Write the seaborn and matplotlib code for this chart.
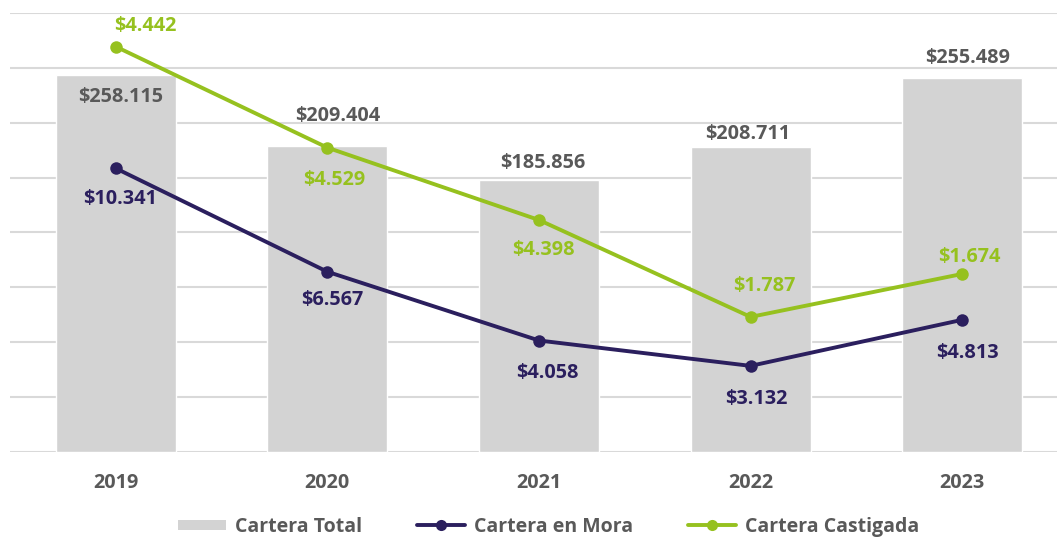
import numpy as np
import pandas as pd
import matplotlib
matplotlib.use("Agg")
import matplotlib.pyplot as plt
import seaborn as sns
from matplotlib.lines import Line2D

# Data
years = ["2019", "2020", "2021", "2022", "2023"]
cartera_total = [258115, 209404, 185856, 208711, 255489]
cartera_mora = [10341, 6567, 4058, 3132, 4813]
cartera_castigada = [4442, 4529, 4398, 1787, 1674]

# label offsets in pixels (dx, dy) relative to bar top / marker
total_off = [(5, -22), (10, 30), (4, 17), (-3, 13), (5, 20)]
mora_off = [(4, -31), (5, -28), (8, -32), (6, -33), (5, -33)]
cast_off = [(30, 21), (7, -32), (4, -30), (14, 31), (7, 17)]

GRAY_BAR = "#d3d3d3"
GRAY_TXT = "#595959"
NAVY = "#2b1f5e"
GREEN = "#96c11f"
FS = 14.3


def fmt(v):
    return "$" + f"{v:,}".replace(",", ".")


df = pd.DataFrame({
    "year": years,
    "pos": np.arange(len(years)),
    "total": cartera_total,
    "mora": cartera_mora,
    # castigada line is stacked on top of mora
    "cast_stack": np.array(cartera_mora) + np.array(cartera_castigada),
})

sns.set_style("white")
plt.rcParams['font.family'] = ['Open Sans', 'DejaVu Sans']
plt.rcParams['font.weight'] = 'bold'

fig = plt.figure(figsize=(10.57, 5.38), dpi=100)
ax = fig.add_axes([10 / 1057, 86.3 / 538, 1058 / 1057, 438.4 / 538])

sns.barplot(data=df, x="year", y="total", color=GRAY_BAR, saturation=1,
            width=0.567, ax=ax, zorder=2)
ax.set_ylim(0, 300000)
ax.set_yticks(np.linspace(0, 300000, 9))
ax.set_yticklabels([])
ax.grid(axis="y", color="#d9d9d9", linewidth=1.5)
ax.set_axisbelow(True)
ax.tick_params(axis="both", length=0)
ax.tick_params(axis="x", pad=15, labelsize=FS, labelcolor=GRAY_TXT)
for lbl in ax.get_xticklabels():
    lbl.set_fontweight("bold")
ax.set_xlabel("")
ax.set_ylabel("")
sns.despine(ax=ax, left=True, bottom=True)

for i, v in enumerate(cartera_total):
    ax.annotate(fmt(v), (i, v), xytext=total_off[i], textcoords="offset pixels",
                ha="center", va="center", fontsize=FS, fontweight="bold",
                color=GRAY_TXT)

ax2 = ax.twinx()
sns.lineplot(data=df, x="pos", y="cast_stack", color=GREEN, linewidth=2.8,
             marker="o", markersize=9, markeredgewidth=0, ax=ax2)
sns.lineplot(data=df, x="pos", y="mora", color=NAVY, linewidth=2.8,
             marker="o", markersize=9, markeredgewidth=0, ax=ax2)
ax2.set_ylim(0, 16000)
ax2.set_yticks([])
ax2.set_xlabel("")
ax2.set_ylabel("")
ax2.grid(False)
sns.despine(ax=ax2, left=True, bottom=True, right=True)

for i in range(len(years)):
    ax2.annotate(fmt(cartera_mora[i]), (i, df["mora"][i]), xytext=mora_off[i],
                 textcoords="offset pixels", ha="center", va="center",
                 fontsize=FS, fontweight="bold", color=NAVY)
    ax2.annotate(fmt(cartera_castigada[i]), (i, df["cast_stack"][i]),
                 xytext=cast_off[i], textcoords="offset pixels",
                 ha="center", va="center", fontsize=FS, fontweight="bold",
                 color=GREEN)

ax.set_xlim(-0.5, 4.5)

handles = [
    Line2D([], [], color=GRAY_BAR, linewidth=7.2, solid_capstyle="butt"),
    Line2D([], [], color=NAVY, linewidth=2.8, marker="o", markersize=8,
           markeredgewidth=0),
    Line2D([], [], color=GREEN, linewidth=2.8, marker="o", markersize=8,
           markeredgewidth=0),
]
labels = ["Cartera Total", "Cartera en Mora", "Cartera Castigada"]
leg = fig.legend(handles, labels, loc="center", bbox_to_anchor=(0.519, 1 - 527 / 538),
                 ncol=3, frameon=False, fontsize=14, handlelength=2.5,
                 handletextpad=0.45, columnspacing=2.8)
for t in leg.get_texts():
    t.set_color(GRAY_TXT)
    t.set_fontweight("bold")

fig.savefig("out.png", dpi=100)
